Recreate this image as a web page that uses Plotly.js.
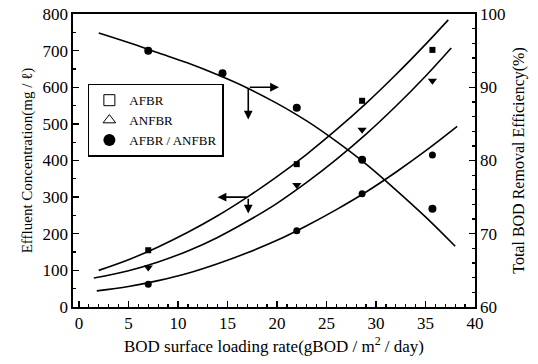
<!DOCTYPE html>
<html>
<head>
<meta charset="utf-8">
<script src="https://cdn.plot.ly/plotly-3.0.1.min.js"></script>
<style>html,body{margin:0;padding:0;background:#fff;}#chart{width:538px;height:364px;}
#chart text{font-family:"Liberation Serif","Times New Roman",serif !important;}</style>
</head>
<body>
<div id="chart"></div>
<script>
// Measured points
const loadX = [7, 22, 28.6, 35.7];
const afbr = [155, 390, 563, 702];
const anfbr = [108, 333, 484, 618];
const combined = [62, 208, 309, 415];
const effX = [7, 14.5, 22, 28.6, 35.7];
const eff = [95, 91.9, 87.2, 80.1, 73.4];

// Fitted curves
const afbrFitX = [2, 5, 8, 11, 14, 17, 20, 23, 26, 29, 32, 35, 37.3];
const afbrFitY = [100, 129, 164, 204, 249, 300, 356, 417, 484, 556, 634, 717, 784];
const anfbrFitX = [1.5, 5, 8, 11, 14, 17, 20, 23, 26, 29, 32, 35, 37.6];
const anfbrFitY = [79, 99, 123, 153, 190, 234, 283, 340, 403, 472, 548, 630, 707];
const combFitX = [1.8, 5, 8, 11, 14, 17, 20, 23, 26, 29, 32, 35, 38.2];
const combFitY = [44, 56, 72, 92, 118, 148, 182, 222, 266, 314, 368, 426, 493];
const effFitX = [2, 5, 8, 11, 14, 17, 20, 23, 26, 29, 32, 35, 38];
const effFitY = [97.4, 96.1, 94.7, 93.3, 91.7, 89.9, 87.8, 85.4, 82.6, 79.5, 76.0, 72.3, 68.3];

const serif = "Liberation Serif";
const line = {color: '#000', width: 1.6, shape: 'spline', smoothing: 1};

const traces = [
  {x: afbrFitX, y: afbrFitY, mode: 'lines', line: line, showlegend: false, hoverinfo: 'skip'},
  {x: anfbrFitX, y: anfbrFitY, mode: 'lines', line: line, showlegend: false, hoverinfo: 'skip'},
  {x: combFitX, y: combFitY, mode: 'lines', line: line, showlegend: false, hoverinfo: 'skip'},
  {x: effFitX, y: effFitY, yaxis: 'y2', mode: 'lines', line: line, showlegend: false, hoverinfo: 'skip'},
  {x: loadX, y: afbr, mode: 'markers', showlegend: false,
   marker: {symbol: 'square', size: 6, color: '#000'}},
  {x: loadX, y: anfbr, mode: 'markers', showlegend: false,
   marker: {symbol: 'triangle-down', size: 8, color: '#000'}},
  {x: loadX, y: combined, mode: 'markers', showlegend: false,
   marker: {symbol: 'circle', size: 7, color: '#000'}},
  {x: effX, y: eff, yaxis: 'y2', mode: 'markers', showlegend: false,
   marker: {symbol: 'circle', size: 8, color: '#000'}},
  // legend entries
  {x: [null], y: [null], mode: 'markers', name: 'AFBR',
   marker: {symbol: 'square-open', size: 11, color: '#000', line: {width: 1}}},
  {x: [null], y: [null], mode: 'markers', name: 'ANFBR',
   marker: {symbol: 'triangle-up-open', size: 11, color: '#000', line: {width: 1}}},
  {x: [null], y: [null], mode: 'markers', name: 'AFBR / ANFBR',
   marker: {symbol: 'circle', size: 12, color: '#000'}}
];

const arrow = {showarrow: true, arrowhead: 2, arrowsize: 1.1, arrowwidth: 1.6, arrowcolor: '#000', text: ''};
const layout = {
  width: 538, height: 364,
  margin: {l: 73, r: 63, t: 14, b: 57},
  paper_bgcolor: '#fff', plot_bgcolor: '#fff',
  font: {family: serif, color: '#000', size: 16},
  showlegend: true,
  legend: {x: 0.037, y: 0.762, xanchor: 'left', yanchor: 'top',
           bordercolor: '#000', borderwidth: 1.5, bgcolor: '#fff',
           font: {family: serif, size: 13, color: '#000'}, itemwidth: 30,
           tracegroupgap: 0},
  xaxis: {range: [-0.6, 40], tickvals: [0,5,10,15,20,25,30,35,40],
          ticks: 'inside', ticklen: 6, tickwidth: 1.3, tickcolor: '#000',
          minor: {dtick: 1, tick0: 0, ticks: 'inside', ticklen: 3, tickcolor: '#000'},
          showline: true, linecolor: '#000', linewidth: 1.6, mirror: true,
          showgrid: false, zeroline: false,
          tickfont: {family: serif, size: 17},
          title: {text: 'BOD surface loading rate(gBOD / m<sup>2</sup> / day)', standoff: 8,
                  font: {family: serif, size: 17}}},
  yaxis: {range: [0, 800], dtick: 100, ticks: 'inside', ticklen: 6, tickwidth: 1.3, tickcolor: '#000',
          minor: {dtick: 50, ticks: 'inside', ticklen: 3, tickcolor: '#000'},
          showline: true, linecolor: '#000', linewidth: 1.6,
          showgrid: false, zeroline: false,
          tickfont: {family: serif, size: 17},
          title: {text: 'Effluent Concentration(mg / ℓ)', standoff: 6,
                  font: {family: serif, size: 15}}},
  yaxis2: {range: [60, 100], dtick: 10, overlaying: 'y', side: 'right',
           ticks: 'inside', ticklen: 6, tickwidth: 1.3, tickcolor: '#000',
           minor: {dtick: 2, ticks: 'inside', ticklen: 3, tickcolor: '#000'},
           showline: true, linecolor: '#000', linewidth: 1.6,
           showgrid: false, zeroline: false,
           tickfont: {family: serif, size: 17},
           title: {text: 'Total BOD Removal Efficiency(%)', standoff: 8,
                   font: {family: serif, size: 16}}},
  annotations: [
    Object.assign({}, arrow, {xref: 'x', yref: 'y2', axref: 'x', ayref: 'y2', x: 20.2, y: 90, ax: 17.1, ay: 90}),
    Object.assign({}, arrow, {xref: 'x', yref: 'y2', axref: 'x', ayref: 'y2', x: 17.1, y: 85.6, ax: 17.1, ay: 90}),
    Object.assign({}, arrow, {xref: 'x', yref: 'y', axref: 'x', ayref: 'y', x: 14.0, y: 300, ax: 17.1, ay: 300}),
    Object.assign({}, arrow, {xref: 'x', yref: 'y', axref: 'x', ayref: 'y', x: 17.1, y: 255, ax: 17.1, ay: 300})
  ]
};

Plotly.newPlot('chart', traces, layout, {displayModeBar: false, staticPlot: true});
</script>
</body>
</html>
